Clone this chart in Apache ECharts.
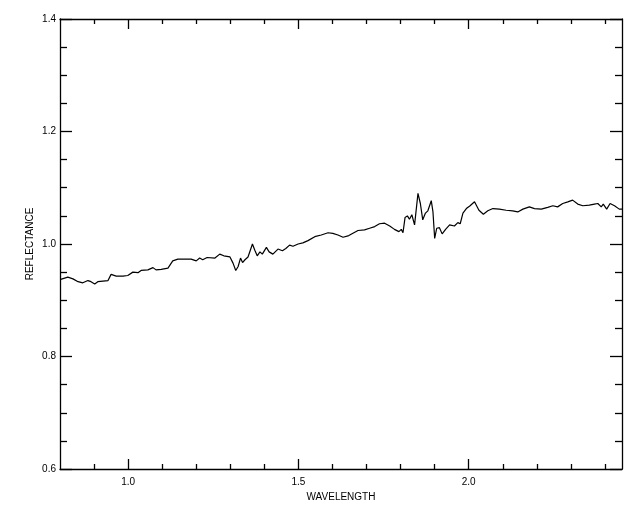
<!DOCTYPE html>
<html>
<head>
<meta charset="utf-8">
<script src="https://cdn.jsdelivr.net/npm/echarts@6/dist/echarts.min.js"></script>
<style>html,body{margin:0;padding:0;background:#fff}#c{width:640px;height:512px}</style>
</head>
<body>
<div id="c"></div>
<script>
const wavelength = [0.802,0.823,0.838,0.853,0.867,0.882,0.891,0.902,0.911,0.926,0.941,0.950,0.965,0.985,0.999,1.014,1.029,1.038,1.058,1.073,1.082,1.097,1.117,1.131,1.146,1.166,1.185,1.200,1.210,1.219,1.232,
1.255,1.269,1.281,1.299,1.308,1.316,1.323,1.330,1.336,1.343,1.352,1.365,1.372,1.379,1.387,1.394,1.406,1.414,1.425,1.440,1.453,1.463,1.474,1.484,1.499,1.513,1.528,1.548,1.567,1.587,1.601,1.616,1.631,1.648,
1.660,1.675,1.694,1.709,1.724,1.738,1.753,1.768,1.782,1.795,1.802,1.807,1.813,1.820,1.826,1.833,1.841,1.851,1.858,1.865,1.873,1.880,1.890,1.895,1.900,1.906,1.914,1.922,1.932,1.944,1.958,1.968,1.975,1.983,1.993,2.004,2.017,2.030,2.043,
2.056,2.071,2.090,2.110,2.129,2.144,2.159,2.178,2.193,2.213,2.232,2.247,2.261,2.276,2.291,2.305,2.320,2.335,2.354,2.369,2.379,2.389,2.395,2.405,2.415,2.428,2.442,2.450];
const reflectance = [0.937,0.941,0.938,0.933,0.931,0.935,0.933,0.929,0.933,0.934,0.935,0.946,0.943,0.943,0.944,0.950,0.949,0.953,0.954,0.958,0.954,0.955,0.957,0.970,0.973,0.973,0.973,0.970,0.975,0.972,0.976,
0.975,0.982,0.979,0.977,0.966,0.953,0.960,0.975,0.967,0.972,0.977,1.000,0.989,0.979,0.986,0.982,0.994,0.986,0.982,0.991,0.988,0.992,0.998,0.996,1.000,1.002,1.006,1.013,1.016,1.020,1.019,1.016,1.012,1.015,
1.019,1.024,1.025,1.028,1.031,1.036,1.037,1.032,1.026,1.022,1.026,1.020,1.047,1.050,1.044,1.052,1.034,1.090,1.072,1.043,1.055,1.059,1.077,1.057,1.010,1.028,1.029,1.018,1.026,1.034,1.032,1.038,1.036,1.055,1.063,1.068,1.075,1.060,1.053,
1.059,1.063,1.062,1.060,1.059,1.057,1.062,1.066,1.063,1.062,1.065,1.068,1.066,1.072,1.075,1.078,1.071,1.068,1.069,1.071,1.072,1.066,1.071,1.062,1.072,1.068,1.062,1.062];

const xMajorTicks = [1.0, 1.5, 2.0];
const xMinorTicks = [0.9, 1.1, 1.2, 1.3, 1.4, 1.6, 1.7, 1.8, 1.9, 2.1, 2.2, 2.3, 2.4];
const yMajorTicks = [0.6, 0.8, 1.0, 1.2, 1.4];
const yMinorTicks = [0.65, 0.7, 0.75, 0.85, 0.9, 0.95, 1.05, 1.1, 1.15, 1.25, 1.3, 1.35];
const xRange = [0.8, 2.45];
const yRange = [0.6, 1.4];

const font = 'Liberation Sans, Arial, sans-serif';
const black = '#000';

function xAx(pos, ticks, len, showLine, labels) {
  return {
    type: 'value', position: pos, min: xRange[0], max: xRange[1],
    axisLine: { show: showLine, onZero: false, lineStyle: { color: black, width: 1.3 } },
    axisTick: { show: true, inside: true, length: len, customValues: ticks, lineStyle: { color: black, width: 1.3 } },
    axisLabel: labels ? { show: true, customValues: ticks, formatter: v => v.toFixed(1), color: black, fontFamily: font, fontSize: 10, margin: 8 } : { show: false },
    splitLine: { show: false }
  };
}
function yAx(pos, ticks, len, showLine, labels) {
  return {
    type: 'value', position: pos, min: yRange[0], max: yRange[1],
    axisLine: { show: showLine, onZero: false, lineStyle: { color: black, width: 1.3 } },
    axisTick: { show: true, inside: true, length: len, customValues: ticks, lineStyle: { color: black, width: 1.3 } },
    axisLabel: labels ? { show: true, customValues: ticks, formatter: v => v.toFixed(1), color: black, fontFamily: font, fontSize: 10, margin: 4 } : { show: false },
    splitLine: { show: false }
  };
}

const xMain = xAx('bottom', xMajorTicks, 10, true, true);
xMain.name = 'WAVELENGTH';
xMain.nameLocation = 'middle';
xMain.nameGap = 23;
xMain.nameMoveOverlap = false;
xMain.nameTextStyle = { color: black, fontFamily: font, fontSize: 10 };
const yMain = yAx('left', yMajorTicks, 12, true, true);
yMain.name = 'REFLECTANCE';
yMain.nameLocation = 'middle';
yMain.nameGap = 25;
yMain.nameMoveOverlap = false;
yMain.nameTextStyle = { color: black, fontFamily: font, fontSize: 10 };

const chart = echarts.init(document.getElementById('c'), null, { renderer: 'canvas' });
chart.setOption({
  backgroundColor: '#fff',
  animation: false,
  grid: { left: 60, right: 18, top: 19, bottom: 43, containLabel: false },
  xAxis: [
    xMain,
    xAx('bottom', xMinorTicks, 5, false, false),
    xAx('top', xMajorTicks, 10, true, false),
    xAx('top', xMinorTicks, 5, false, false)
  ],
  yAxis: [
    yMain,
    yAx('left', yMinorTicks, 7, false, false),
    yAx('right', yMajorTicks, 12, true, false),
    yAx('right', yMinorTicks, 7, false, false)
  ],
  series: [{
    type: 'line',
    xAxisIndex: 0, yAxisIndex: 0,
    data: wavelength.map((w, i) => [w, reflectance[i]]),
    showSymbol: false,
    smooth: false,
    lineStyle: { color: black, width: 1.2 },
    itemStyle: { color: black }
  }]
});
</script>
</body>
</html>
